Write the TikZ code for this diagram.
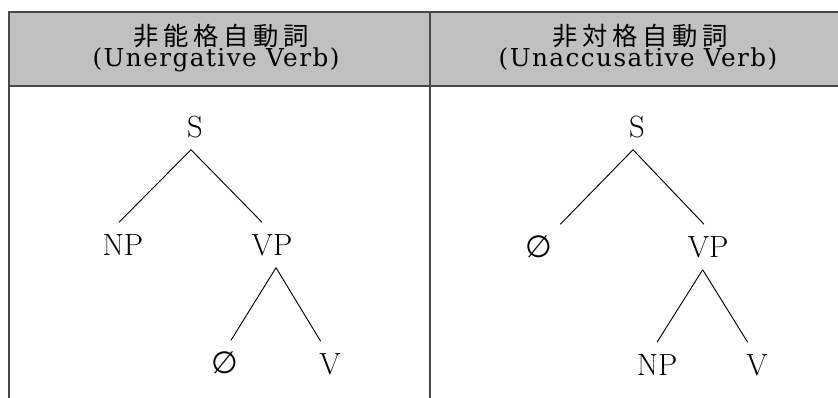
\RequirePackage{fix-cm}
\documentclass[tikz,border=0pt]{standalone}
\usepackage{fontspec}
\newfontfamily\cjkfont[LetterSpace=18]{Noto Sans CJK JP}
\newfontfamily\headfont[LetterSpace=6]{DejaVu Serif}
\newfontfamily\symfont{DejaVu Sans}
\definecolor{headgray}{RGB}{192,192,192}
\definecolor{rulegray}{RGB}{72,72,72}
\tikzset{
  cat/.style={font=\fontsize{23}{28}\selectfont, inner sep=9pt, text height=15.7pt, text depth=0pt},
  branch/.style={line width=0.7pt},
  rule/.style={rulegray, line width=1.2pt},
  headjp/.style={anchor=base, inner sep=0pt, font=\cjkfont\fontsize{19}{22}\selectfont},
  headen/.style={anchor=base, inner sep=0pt, font=\headfont\fontsize{18.5}{22}\selectfont},
}

\begin{document}
\begin{tikzpicture}[x=0.75pt,y=-0.75pt]
  \useasboundingbox (0,0) rectangle (838,398);

  % table
  \fill[headgray] (9,12) rectangle (838,86);
  \draw[rule] (838,12) -- (9,12) -- (9,398);
  \draw[rule] (9,86) -- (838,86);
  \draw[rule] (430,12) -- (430,398);

  \node[headjp] (jpA) at (221,46) {非能格自動詞};
  \node[headen] (enA) at (216,67) {(Unergative Verb)};
  \node[headjp] (jpB) at (640,46) {非対格自動詞};
  \node[headen] (enB) at (638,67) {(Unaccusative Verb)};

  % unergative tree
  \node[cat] (S1) at (195,127) {S};
  \node[cat] (NP1) at (123,245) {NP};
  \node[cat] (VP1) at (272,245) {VP};
  \node[cat] (E1) at (225,363) {\symfont ∅};
  \node[cat] (V1) at (330,364) {V};

  \draw[branch] ([xshift=-3pt]S1.south) -- ([xshift=-3pt]NP1.north);
  \draw[branch] ([xshift=-3pt]S1.south) -- ([xshift=-7.5pt]VP1.north);
  \draw[branch] ([xshift=3pt]VP1.south) -- ([xshift=4.5pt]E1.north);
  \draw[branch] ([xshift=3pt]VP1.south) -- ([xshift=-7pt]V1.north);

  % unaccusative tree
  \node[cat] (S2) at (637,127) {S};
  \node[cat] (E2) at (539,247) {\symfont ∅};
  \node[cat] (VP2) at (708,247) {VP};
  \node[cat] (NP2) at (657,365) {NP};
  \node[cat] (V2) at (757,365) {V};

  \draw[branch] ([xshift=-3pt]S2.south) -- ([xshift=16pt]E2.north);
  \draw[branch] ([xshift=-3pt]S2.south) -- ([xshift=-3pt]VP2.north);
  \draw[branch] ([xshift=-4pt]VP2.south) -- (NP2.north);
  \draw[branch] ([xshift=-4pt]VP2.south) -- ([xshift=-7pt]V2.north);
\end{tikzpicture}
\end{document}
